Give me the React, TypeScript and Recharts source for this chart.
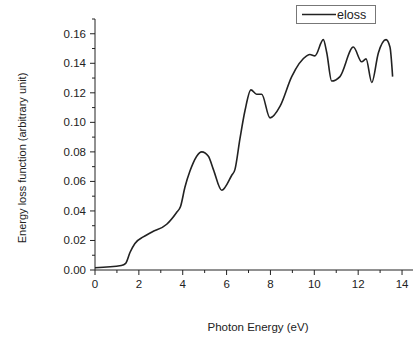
import { Label, Legend, Line, LineChart, XAxis, YAxis } from "recharts";

// photon energy (eV) and energy loss function
const energy = [
    0, 1.2, 1.4, 1.6, 1.82, 2.2, 2.58, 3.27, 3.72, 3.9, 4.1, 4.33, 4.87, 5.17, 5.4, 5.78, 6.23, 6.38, 6.61, 6.84,
    7.11, 7.37, 7.6, 7.98, 8.44, 8.97, 9.65, 9.8, 10.03, 10.41, 10.57, 10.79, 11.17, 11.78, 12.16, 12.36, 12.62,
    12.92, 13.27, 13.45, 13.57,
];
const eloss = [
    0.0015, 0.003, 0.0045, 0.012, 0.018, 0.0224, 0.0256, 0.031, 0.039, 0.043, 0.056, 0.067, 0.08, 0.077, 0.068,
    0.054, 0.064, 0.068, 0.089, 0.108, 0.122, 0.119, 0.119, 0.103, 0.111, 0.131, 0.145, 0.146, 0.145, 0.156,
    0.147, 0.128, 0.131, 0.151, 0.141, 0.143, 0.127, 0.147, 0.156, 0.151, 0.131,
];

const xTicks = [0, 1, 2, 3, 4, 5, 6, 7, 8, 9, 10, 11, 12, 13, 14];
const yTicks = [
    0, 0.01, 0.02, 0.03, 0.04, 0.05, 0.06, 0.07, 0.08, 0.09, 0.1, 0.11, 0.12, 0.13, 0.14, 0.15, 0.16, 0.17,
];

const data = energy.map((e, i) => ({ e, eloss: eloss[i] }));

const FONT = "'Liberation Sans', Arial, sans-serif";
const INK = "#222";

// axis ticks point outward, odd ones are minor (short, no label)
const XTick = (props: any) => {
    const { x, y, index } = props;
    const minor = index % 2 === 1;
    const top = y - 9;
    return (
        <g>
            <line x1={x} x2={x} y1={top} y2={top + (minor ? 3 : 5)} stroke={INK} strokeWidth={1} />
            {!minor && (
                <text x={x} y={y} dy="0.8em" textAnchor="middle" fontSize={11.5} fill={INK} fontFamily={FONT}>
                    {props.payload.value}
                </text>
            )}
        </g>
    );
};

const YTick = (props: any) => {
    const { x, y, index } = props;
    const minor = index % 2 === 1;
    const right = x + 9;
    return (
        <g>
            <line x1={right} x2={right - (minor ? 3 : 5)} y1={y} y2={y} stroke={INK} strokeWidth={1} />
            {!minor && (
                <text x={x} y={y} dy="0.35em" textAnchor="end" fontSize={11.5} fill={INK} fontFamily={FONT}>
                    {props.payload.value.toFixed(2)}
                </text>
            )}
        </g>
    );
};

const LegendBox = () => (
    <div
        style={{
            display: "flex",
            alignItems: "center",
            border: "1px solid #777",
            height: 17,
            width: 78,
            boxSizing: "content-box",
            fontFamily: FONT,
            fontSize: 12.5,
            color: INK,
            background: "#fff",
        }}
    >
        <svg width={40} height={17}>
            <line x1={5} x2={39} y1={8.5} y2={8.5} stroke={INK} strokeWidth={1.6} />
        </svg>
        <span>eloss</span>
    </div>
);

export default function App() {
    return (
        <div style={{ position: "absolute", left: 0, top: 0, width: 414, height: 338, background: "#fff" }}>
            <LineChart width={414} height={338} data={data} margin={{ top: 19, right: 1, left: 0, bottom: 0 }}>
                <XAxis
                    dataKey="e"
                    type="number"
                    domain={[0, 14.5]}
                    ticks={xTicks}
                    interval={0}
                    height={49}
                    stroke={INK}
                    tickLine={false}
                    tickSize={5}
                    tickMargin={4}
                    tick={<XTick />}
                >
                    <Label
                        content={() => (
                            <text x={258} y={327} dy="0.35em" textAnchor="middle" fontSize={11.5} fill={INK} fontFamily={FONT}>
                                Photon Energy (eV)
                            </text>
                        )}
                    />
                </XAxis>
                <YAxis
                    type="number"
                    domain={[0, 0.17]}
                    ticks={yTicks}
                    interval={0}
                    width={95}
                    stroke={INK}
                    tickLine={false}
                    tickSize={5}
                    tickMargin={4}
                    tick={<YTick />}
                >
                    <Label
                        content={() => (
                            <text
                                x={22}
                                y={158}
                                dy="0.35em"
                                textAnchor="middle"
                                transform="rotate(-90, 22, 158)"
                                fontSize={11}
                                fill={INK}
                                fontFamily={FONT}
                            >
                                Energy loss function (arbitrary unit)
                            </text>
                        )}
                    />
                </YAxis>
                <Legend
                    content={<LegendBox />}
                    wrapperStyle={{ position: "absolute", top: 5, left: 296, width: "auto" }}
                />
                <Line
                    type="monotone"
                    dataKey="eloss"
                    stroke={INK}
                    strokeWidth={1.6}
                    dot={false}
                    isAnimationActive={false}
                />
            </LineChart>
        </div>
    );
}
